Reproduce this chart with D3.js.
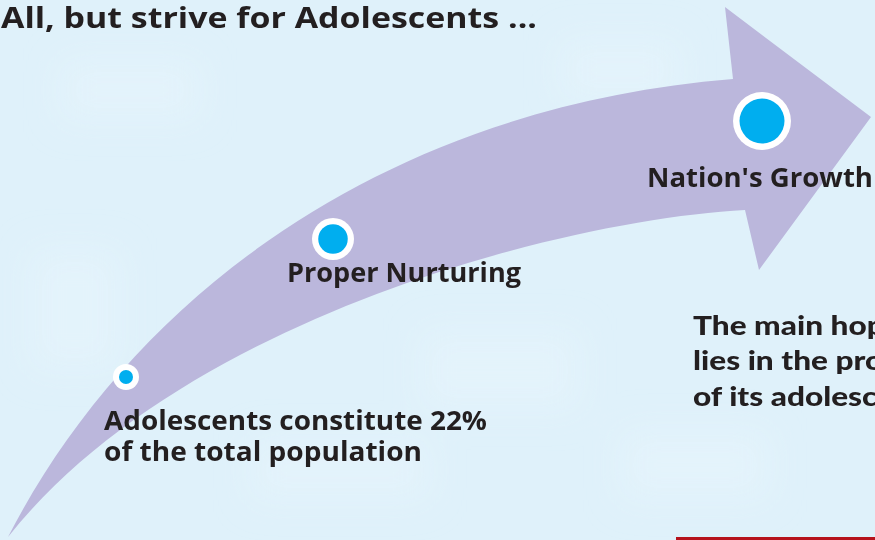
<!DOCTYPE html>
<html>
<head>
<meta charset="utf-8">
<script src="https://cdn.jsdelivr.net/npm/d3@7"></script>
<style>
  html, body { margin: 0; padding: 0; background: #dff1fa; overflow: hidden; }
  svg { display: block; }
</style>
</head>
<body>
<div class="container"></div>
<script>
const w = 875;
const h = 540;

// content
const title = 'All, but strive for Adolescents ...';
const stageNames = ['Adolescents', 'Proper Nurturing', "Nation's Growth"];
const stageLabels = [
    ['Adolescents constitute 22%', 'of the total population'],
    ['Proper Nurturing'],
    ["Nation's Growth"]
];
const stageProgress = [0.14, 0.42, 1];   // how far along the arrow
const stageWeight = [1, 2, 3];           // dot grows with the stage
const noteLines = ['The main hope of a nation', 'lies in the proper care', 'of its adolescents'];

// colours
const bg = '#dff1fa';
const arrowFill = '#bbb7dc';
const dotFill = '#00aeef';
const ink = '#231f20';

const svg = d3.select('.container')
    .append('svg')
    .attr('width', w)
    .attr('height', h)
    .attr('viewBox', [0, 0, w, h]);

// soft mottled background
const defs = svg.append('defs');
const blur = defs.append('filter').attr('id', 'soft').attr('x', '-50%').attr('y', '-50%').attr('width', '200%').attr('height', '200%');
blur.append('feGaussianBlur').attr('stdDeviation', 18);

svg.append('rect').attr('width', w).attr('height', h).attr('fill', bg);
const patches = [[60, 60, 140, 60], [420, 330, 160, 80], [560, 40, 120, 60], [250, 440, 180, 60], [30, 250, 90, 120], [620, 430, 150, 70]];
svg.append('g').attr('filter', 'url(#soft)')
    .selectAll('rect')
    .data(patches)
    .join('rect')
    .attr('x', d => d[0]).attr('y', d => d[1])
    .attr('width', d => d[2]).attr('height', d => d[3])
    .attr('fill', '#e9f6fc')
    .attr('opacity', 0.45);

// arrow: curved body + head
const arrowPath = d3.path();
arrowPath.moveTo(8, 537);
arrowPath.bezierCurveTo(130, 300, 380, 108, 733, 79);
arrowPath.lineTo(725, 7);
arrowPath.lineTo(871, 117);
arrowPath.lineTo(759, 270);
arrowPath.lineTo(745, 210);
arrowPath.bezierCurveTo(560, 220, 180, 320, 8, 537);
arrowPath.closePath();

svg.append('path')
    .attr('d', arrowPath.toString())
    .attr('fill', arrowFill);

// stage dots along the arrow
const px = d3.scaleLinear().domain([0, 0.14, 0.42, 1]).range([8, 126, 333, 762]);
const py = d3.scaleLinear().domain([0, 0.14, 0.42, 1]).range([537, 377, 239, 121]);
const rOuter = d3.scaleLinear().domain([1, 3]).range([13, 29]);
const rInner = d3.scaleLinear().domain([1, 3]).range([7, 22.5]);

const dots = svg.append('g')
    .selectAll('g')
    .data(stageNames.map((n, i) => ({ name: n, p: stageProgress[i], wt: stageWeight[i] })))
    .join('g')
    .attr('transform', d => `translate(${px(d.p)},${py(d.p)})`);

dots.append('circle').attr('r', d => rOuter(d.wt)).attr('fill', '#ffffff');
dots.append('circle').attr('r', d => rInner(d.wt)).attr('fill', dotFill);

// labels
const labelFont = "'Open Sans', 'Noto Sans', sans-serif";
const labelPos = [
    { x: 104, y: 430, lens: [383, 318] },
    { x: 287, y: 282, lens: [234] },
    { x: 647, y: 187, lens: [226] }
];

stageLabels.forEach((lines, i) => {
    const t = svg.append('text')
        .attr('font-family', labelFont)
        .attr('font-weight', 700)
        .attr('font-size', 26)
        .attr('fill', ink);
    lines.forEach((line, j) => {
        t.append('tspan')
            .attr('x', labelPos[i].x)
            .attr('y', labelPos[i].y + j * 31)
            .attr('textLength', labelPos[i].lens[j])
            .attr('lengthAdjust', 'spacingAndGlyphs')
            .text(line);
    });
});

svg.append('text')
    .attr('x', 1)
    .attr('y', 28)
    .attr('font-family', labelFont)
    .attr('font-weight', 700)
    .attr('font-size', 28)
    .attr('fill', ink)
    .attr('textLength', 536)
    .attr('lengthAdjust', 'spacingAndGlyphs')
    .text(title);

// note on the right, runs off the edge (wide geometric face, stretched)
svg.append('g')
    .attr('transform', 'translate(693,0) scale(1.17,1)')
    .append('text')
    .attr('font-family', "Lato, 'DejaVu Sans', sans-serif")
    .attr('font-weight', 900)
    .attr('font-size', 27)
    .attr('fill', ink)
    .selectAll('tspan')
    .data(noteLines)
    .join('tspan')
    .attr('x', 0)
    .attr('y', (d, i) => 335 + i * 35.5)
    .text(d => d);

// red rule at the bottom
svg.append('line')
    .attr('x1', 676).attr('x2', w)
    .attr('y1', 538.5).attr('y2', 538.5)
    .attr('stroke', '#b5121b')
    .attr('stroke-width', 3);
</script>
</body>
</html>
